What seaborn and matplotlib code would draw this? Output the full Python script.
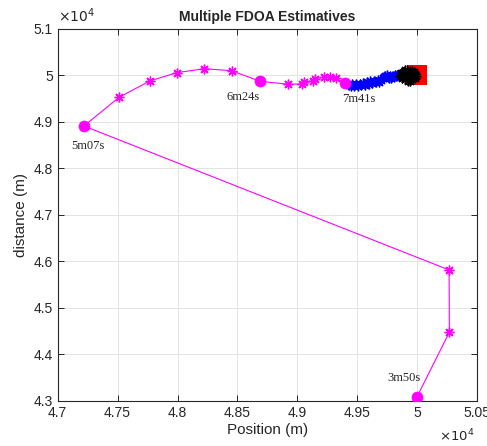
import numpy as np
import pandas as pd
import matplotlib
matplotlib.use("Agg")
import matplotlib.pyplot as plt
import seaborn as sns

# ---------------- data ----------------
pink_x = [50000, 50269, 50267, 47219, 47513, 47769, 47992, 48225, 48452, 48688,
          48922, 49042, 49053, 49130, 49144, 49222, 49269, 49319, 49397]
pink_y = [43094, 44479, 45818, 48914, 49532, 49882, 50060, 50146, 50103, 49876,
          49811, 49818, 49860, 49888, 49931, 49962, 49962, 49940, 49845]

circle_x = [50000, 47219, 48688, 49397]
circle_y = [43094, 48914, 49876, 49845]
circle_labels = ["3m50s", "5m07s", "6m24s", "7m41s"]
label_x = [49750, 47110, 48410, 49375]
label_y = [43496, 48491, 49544, 49489]

blue_x = [49430, 49445, 49460, 49475, 49490, 49505, 49520, 49535, 49550, 49565,
          49580, 49595, 49610, 49625, 49640, 49655, 49670, 49685, 49700, 49715,
          49725, 49735, 49745, 49755, 49765, 49775, 49785, 49795, 49805, 49815,
          49825, 49835, 49845, 49855, 49865, 49875, 49885]
blue_y = [49800, 49765, 49815, 49780, 49810, 49775, 49825, 49790, 49835, 49795,
          49850, 49815, 49875, 49835, 49885, 49855, 49900, 49865, 49905, 49940,
          49965, 49995, 50020, 49975, 49945, 49985, 49955, 49995, 49965, 50005,
          49980, 50020, 49990, 50030, 50005, 50045, 50015]

black_x = [49855, 49865, 49872, 49882, 49890, 49895, 49900, 49905, 49910, 49915,
           49920, 49925, 49930, 49935, 49940, 49945, 49950, 49955, 49960, 49965,
           49970, 49975, 49980, 49985, 49990, 49900, 49940, 49878, 49960, 49920]
black_y = [49990, 50050, 49940, 50020, 50080, 49920, 49990, 50050, 49950, 50110,
           50010, 49900, 50060, 49970, 50030, 49930, 50080, 50000, 49950, 50050,
           49990, 50070, 49940, 50030, 49990, 50110, 49890, 49970, 50100, 49880]

target_x = [50000]
target_y = [50000]

x_ticks = [4.7, 4.75, 4.8, 4.85, 4.9, 4.95, 5.0, 5.05]
x_tick_labels = ["4.7", "4.75", "4.8", "4.85", "4.9", "4.95", "5", "5.05"]
y_ticks = [4.3, 4.4, 4.5, 4.6, 4.7, 4.8, 4.9, 5.0, 5.1]
y_tick_labels = ["4.3", "4.4", "4.5", "4.6", "4.7", "4.8", "4.9", "5", "5.1"]

# ---------------- style ----------------
sns.set_theme(style="whitegrid", rc={
    "axes.edgecolor": "#262626",
    "axes.linewidth": 0.8,
    "grid.color": "#e3e3e3",
    "grid.linewidth": 0.7,
    "xtick.direction": "in",
    "ytick.direction": "in",
    "xtick.top": True,
    "ytick.right": True,
    "xtick.bottom": True,
    "ytick.left": True,
    "xtick.color": "#262626",
    "ytick.color": "#262626",
})
plt.rcParams["font.family"] = ["Liberation Sans", "DejaVu Sans"]

fig = plt.figure(figsize=(4.87, 4.46), dpi=100)
ax = fig.add_axes([0.1185, 0.1009, 0.9795 - 0.1185, 0.935 - 0.1009])

ast = (8, 2, 0)

sns.scatterplot(x=target_x, y=target_y, marker="s", s=(20 * 0.72) ** 2,
                color="#ff0000", edgecolor="#ff0000", linewidth=0, ax=ax, zorder=2)

sns.lineplot(x=pink_x, y=pink_y, sort=False, estimator=None, color="#ff00ff",
             linewidth=0.8, marker=ast, markersize=7, markeredgecolor="#ff00ff",
             markeredgewidth=1.0, ax=ax, zorder=3)
sns.scatterplot(x=circle_x, y=circle_y, marker="o", s=(11 * 0.72) ** 2,
                color="#ff00ff", edgecolor="#ff00ff", linewidth=0.5, ax=ax, zorder=4)

sns.lineplot(x=blue_x, y=blue_y, sort=False, estimator=None, color="#0000ff",
             linewidth=0.8, marker=ast, markersize=7, markeredgecolor="#0000ff",
             markeredgewidth=1.0, ax=ax, zorder=3)
sns.lineplot(x=black_x, y=black_y, sort=False, estimator=None, color="#000000",
             linewidth=0.8, marker=ast, markersize=7, markeredgecolor="#000000",
             markeredgewidth=1.0, ax=ax, zorder=5)

for lx, ly, t in zip(label_x, label_y, circle_labels):
    ax.text(lx, ly, t, fontsize=9, family=["Liberation Serif", "DejaVu Serif"],
            ha="left", va="center", color="#262626")

ax.set_xlim(47000, 50500)
ax.set_ylim(43000, 51000)
ax.set_xticks([v * 1e4 for v in x_ticks])
ax.set_xticklabels(x_tick_labels, fontsize=10)
ax.set_yticks([v * 1e4 for v in y_ticks])
ax.set_yticklabels(y_tick_labels, fontsize=10)
ax.tick_params(length=4, width=0.7)
for s in ax.spines.values():
    s.set_visible(True)
    s.set_color("#262626")

ax.set_title("Multiple FDOA Estimatives", fontsize=10, fontweight="bold", pad=6)
ax.set_xlabel("Position (m)", fontsize=11, color="#262626", labelpad=2)
ax.set_ylabel("distance (m)", fontsize=11, color="#262626", labelpad=4)

ax.text(0.0, 1.01, r"$\times10^{4}$", transform=ax.transAxes, fontsize=10,
        ha="left", va="bottom", color="#262626")
ax.text(0.995, -0.072, r"$\times10^{4}$", transform=ax.transAxes, fontsize=9.5,
        ha="right", va="top", color="#262626")

fig.savefig("out.png", dpi=100)
